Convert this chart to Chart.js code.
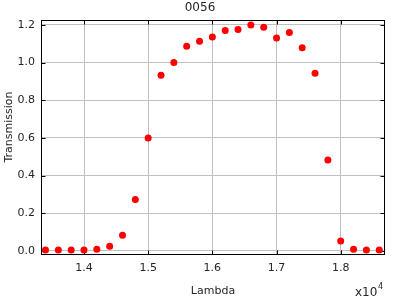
<!DOCTYPE html>
<html>
<head>
<meta charset="utf-8">
<script src="https://cdn.jsdelivr.net/npm/chart.js@4"></script>
<style>
html,body{margin:0;padding:0;background:#fff}
</style>
</head>
<body>
<canvas id="grafico" width="400" height="300"></canvas>
<script>
// valores
var lambda = [13400,13600,13800,14000,14200,14400,14600,14800,15000,15200,15400,15600,15800,16000,
              16200,16400,16600,16800,17000,17200,17400,17600,17800,18000,18200,18400,18600];
var transmission = [0.005,0.005,0.005,0.005,0.009,0.025,0.083,0.273,0.600,0.932,1.000,1.087,1.113,1.136,
                    1.170,1.175,1.200,1.187,1.130,1.159,1.079,0.943,0.482,0.053,0.009,0.004,0.004];
var xTicks = [14000,15000,16000,17000,18000];
var yTicks = [0,0.2,0.4,0.6,0.8,1.0,1.2];

var fonte = "'DejaVu Sans', sans-serif";
var corTexto = '#262626';

var pontos = lambda.map(function(x, i){ return {x: x, y: transmission[i]}; });

// caixa preta em volta + marcas para dentro, titulos e multiplicador
var moldura = {
  id: 'moldura',
  beforeDatasetsDraw: function(chart){
    var ctx = chart.ctx, a = chart.chartArea;
    var sx = chart.scales.x, sy = chart.scales.y;
    var l = Math.round(a.left) + 0.5, r = Math.round(a.right) - 0.5;
    var t = Math.round(a.top) + 0.5, b = Math.round(a.bottom) - 0.5;
    ctx.save();
    ctx.strokeStyle = '#000';
    ctx.lineWidth = 1;
    ctx.strokeRect(l, t, r - l, b - t);
    ctx.beginPath();
    xTicks.forEach(function(v){
      var px = Math.round(sx.getPixelForValue(v)) + 0.5;
      ctx.moveTo(px, b); ctx.lineTo(px, b - 4);
      ctx.moveTo(px, t); ctx.lineTo(px, t + 4);
    });
    yTicks.forEach(function(v){
      var py = Math.round(sy.getPixelForValue(v)) + 0.5;
      ctx.moveTo(l, py); ctx.lineTo(l + 4, py);
      ctx.moveTo(r, py); ctx.lineTo(r - 4, py);
    });
    ctx.stroke();
    ctx.restore();
  },
  afterDraw: function(chart){
    var ctx = chart.ctx, a = chart.chartArea;
    ctx.save();
    ctx.fillStyle = corTexto;
    ctx.textAlign = 'center';
    ctx.textBaseline = 'middle';
    ctx.font = '12px ' + fonte;
    ctx.fillText('0056', 200, 8);
    ctx.font = '11px ' + fonte;
    ctx.fillText('Lambda', (a.left + a.right) / 2, 291);
    ctx.save();
    ctx.translate(9, 127);
    ctx.rotate(-Math.PI / 2);
    ctx.fillText('Transmission', 0, 0);
    ctx.restore();
    ctx.textAlign = 'left';
    ctx.textBaseline = 'alphabetic';
    ctx.font = '12px ' + fonte;
    ctx.fillText('x10', 355, 296);
    ctx.font = '8px ' + fonte;
    ctx.fillText('4', 378, 289);
    ctx.restore();
  }
};

new Chart(document.getElementById('grafico'), {
  type: 'scatter',
  data: {
    datasets: [{
      label: 'Transmission',
      data: pontos,
      backgroundColor: '#ff0000',
      borderColor: '#ff0000',
      borderWidth: 0,
      pointRadius: 3.5
    }]
  },
  options: {
    responsive: false,
    animation: false,
    devicePixelRatio: 1,
    layout: { padding: { top: 20, right: 15, left: 0, bottom: 0 } },
    plugins: {
      legend: { display: false },
      tooltip: { enabled: false }
    },
    scales: {
      x: {
        type: 'linear',
        min: 13330,
        max: 18690,
        afterBuildTicks: function(s){ s.ticks = xTicks.map(function(v){ return {value: v}; }); },
        afterFit: function(s){ s.height = 45; },
        grid: { color: '#c0c0c0', drawTicks: false },
        border: { display: false },
        ticks: {
          padding: 7,
          color: corTexto,
          font: { family: fonte, size: 11 },
          callback: function(v){ return (v / 10000).toFixed(1); }
        }
      },
      y: {
        min: -0.022,
        max: 1.226,
        afterBuildTicks: function(s){ s.ticks = yTicks.map(function(v){ return {value: v}; }); },
        afterFit: function(s){ s.width = 41; },
        grid: { color: '#c0c0c0', drawTicks: false },
        border: { display: false },
        ticks: {
          padding: 6,
          color: corTexto,
          font: { family: fonte, size: 11 },
          callback: function(v){ return v.toFixed(1); }
        }
      }
    }
  },
  plugins: [moldura]
});
</script>
</body>
</html>
